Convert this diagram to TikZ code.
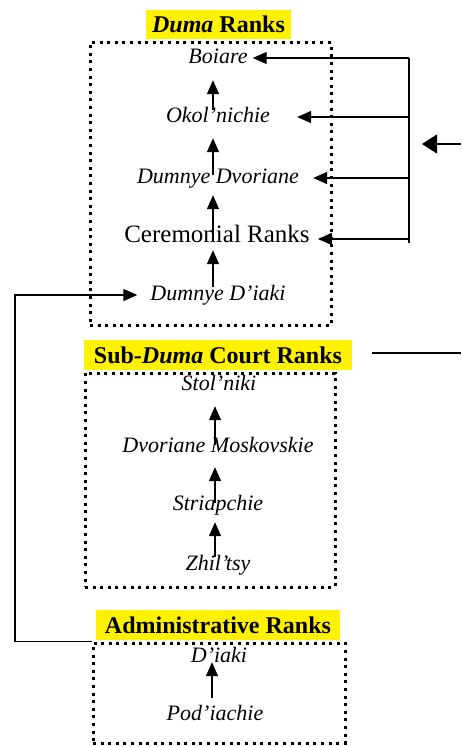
\documentclass[tikz,border=0pt]{standalone}
\usepackage{fontspec}
\setmainfont{Liberation Serif}
\usetikzlibrary{arrows.meta,calc}
\begin{document}
\begin{tikzpicture}[x=1pt,y=-1pt,
 lbl/.style={font=\fontsize{22}{26}\selectfont\itshape, inner sep=0pt, text height=15pt, text depth=5pt},
 lblup/.style={font=\fontsize{25}{28}\selectfont, inner sep=0pt, text height=15pt, text depth=5pt},
 ttl/.style={fill=yellow, inner sep=0pt, font=\fontsize{24}{28}\selectfont\bfseries, minimum height=29pt},
 dbox/.style={draw, line width=3pt, dash pattern=on 3pt off 4.6pt, inner sep=0pt},
 arr/.style={-{Triangle[width=12pt,length=14pt]}, line width=1.3pt},
 bigarr/.style={-{Triangle[width=19pt,length=15pt]}, line width=1.3pt},
 ln/.style={line width=1.3pt}]
\useasboundingbox (0,0) rectangle (461,747);

% boxes
\node[dbox, minimum width=241pt, minimum height=283pt] (box1) at (210.5,184) {};
\node[dbox, minimum width=250pt, minimum height=214pt] (box2) at (210,480) {};
\node[dbox, minimum width=252pt, minimum height=100pt] (box3) at (219,693) {};

% titles
\node[ttl, minimum width=145pt] (t1) at (218.5,24.5) {\textit{Duma} Ranks};
\node[ttl, minimum width=268pt, minimum height=30pt] (t2) at (218,355) {Sub-\textit{Duma} Court Ranks};
\node[ttl, minimum width=244pt, minimum height=30pt] (t3) at (218,625) {Administrative Ranks};

% labels box 1
\node[lbl] (boiare) at (218,58) {Boiare};
\node[lbl] (okol) at (218,117) {Okol’nichie};
\node[lbl] (dvor) at (218,178) {Dumnye Dvoriane};
\node[lblup] (cer) at (217,237) {Ceremonial Ranks};
\node[lbl] (ddiaki) at (218,295) {Dumnye D’iaki};

% labels box 2
\node[lbl] (stol) at (219,385) {Stol’niki};
\node[lbl] (dmosk) at (218,447) {Dvoriane Moskovskie};
\node[lbl] (striap) at (218,505) {Striapchie};
\node[lbl] (zhil) at (218,565) {Zhil’tsy};

% labels box 3
\node[lbl] (diaki) at (219,657) {D’iaki};
\node[lbl] (pod) at (215,715) {Pod’iachie};

% columns
\coordinate (colA) at (213,0);
\coordinate (colB) at (215,0);
\coordinate (colC) at (212,0);
\coordinate (brx) at (409,0);
\coordinate (lx) at (15,400);

% vertical arrows box 1
\draw[arr] ($(okol.north -| colA)+(0,3)$) -- ($(boiare.south -| colA)+(0,12)$);
\draw[arr] ($(dvor.north -| colA)+(0,7)$) -- ($(okol.south -| colA)+(0,11)$);
\draw[arr] ($(cer.north -| colA)+(0,5)$) -- ($(dvor.south -| colA)+(0,7)$);
\draw[arr] ($(ddiaki.north -| colA)+(0,2)$) -- ($(cer.south -| colA)+(0,3)$);

% vertical arrows box 2
\draw[arr] ($(dmosk.north -| colB)+(0,8)$) -- ($(stol.south -| colB)+(0,11)$);
\draw[arr] ($(striap.north -| colB)+(0,8)$) -- ($(dmosk.south -| colB)+(0,10)$);
\draw[arr] ($(zhil.north -| colB)+(0,2)$) -- ($(striap.south -| colB)+(0,7)$);

% vertical arrow box 3
\draw[arr] ($(pod.north -| colC)+(0,-7)$) -- ($(diaki.south -| colC)+(0,-5)$);

% right bracket
\coordinate (brtop) at (brx |- boiare.east);
\coordinate (brbot) at ($(brx |- cer.east)+(0,6)$);
\draw[ln] (brtop) -- (brbot);
\draw[arr] (brtop) -- ([xshift=5pt]boiare.east);
\draw[arr] (brx |- okol.east) -- ([xshift=27pt]okol.east);
\draw[arr] (brx |- dvor.east) -- ([xshift=14pt]dvor.east);
\draw[arr] ($(brx |- cer.east)+(0,2)$) -- ($(cer.east)+(8,2)$);

% free arrow on the right
\coordinate (fr) at (461,144);
\coordinate (fl) at (422,144);
\draw[bigarr] (fr) -- (fl);

% free line on the right
\coordinate (l1) at (372,353);
\coordinate (l2) at (461,353);
\draw[ln] (l1) -- (l2);

% left connector
\draw[arr] (box3.north west) -| (lx) |- ([xshift=-13pt]ddiaki.west);
\end{tikzpicture}
\end{document}
